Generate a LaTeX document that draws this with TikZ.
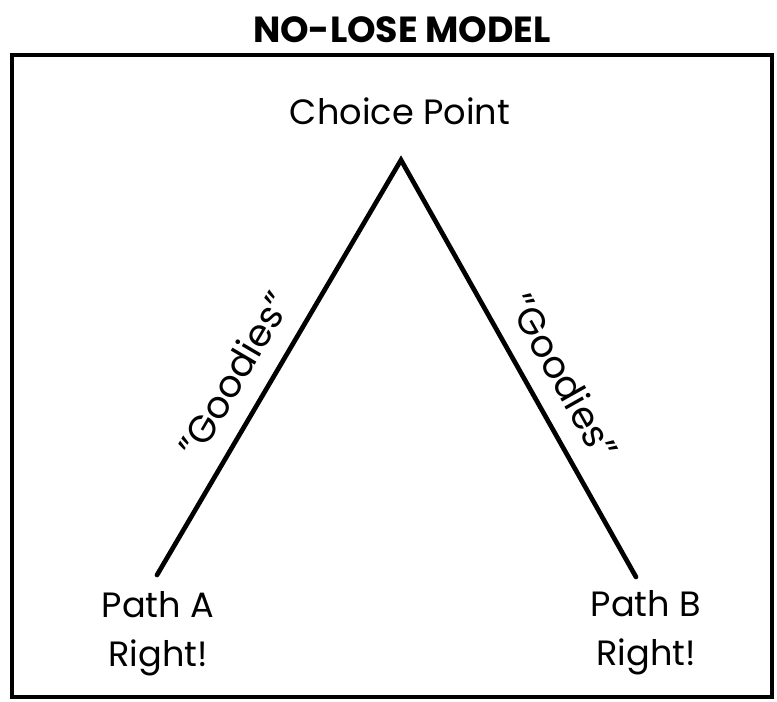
\documentclass[tikz,border=0pt]{standalone}
\usepackage{fontspec}
\setmainfont{Poppins}
\usetikzlibrary{positioning}
\begin{document}
\begin{tikzpicture}[x=0.03cm,y=-0.03cm,
  lbl/.style={font=\fontsize{30}{42}\selectfont,inner sep=0pt},
  quote/.style={lbl,font=\fontsize{32}{40}\selectfont,sloped,above=16pt},
  branch/.style={line width=4pt,line cap=round},
  frame/.style={line width=4pt}]
  \useasboundingbox (0,0) rectangle (777,702);
  \node[font=\bfseries\fontsize{31}{36}\selectfont] (title) at (402,30) {NO-LOSE MODEL};
  \draw[frame] (12,55) rectangle (772,697);
  \node[lbl] (choice) at (400,111) {Choice Point};
  \coordinate (apex) at (401,160);
  \coordinate (endA) at (157,575);
  \coordinate (endB) at (636,577);
  \node[lbl,align=center,anchor=north] (pathA) at (158,591) {Path A\\Right!};
  \node[lbl,align=center,anchor=north] (pathB) at (646,590) {Path B\\Right!};
  \draw[branch] (endA) -- node[quote,pos=0.44] (goodA) {"Goodies"} (apex)
    -- node[quote,pos=0.56] (goodB) {"Goodies"} (endB);
\end{tikzpicture}
\end{document}
